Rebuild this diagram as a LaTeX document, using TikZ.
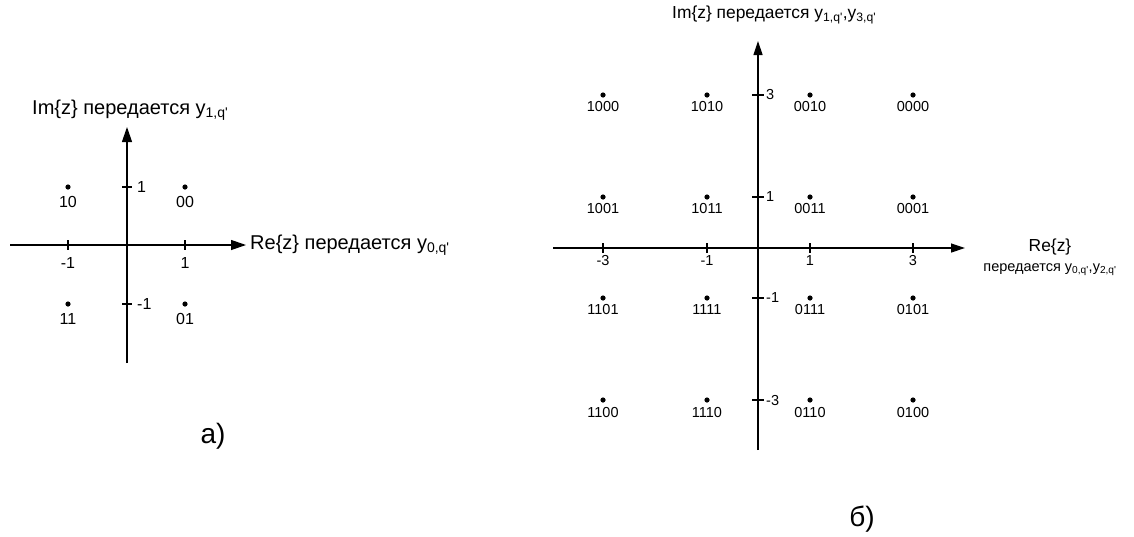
\documentclass[tikz,border=0pt]{standalone}
\usepackage{fontspec}
\setmainfont{Liberation Sans}
\usetikzlibrary{arrows.meta}
\newcommand{\qp}{\textquotesingle}
\begin{document}
\begin{tikzpicture}[x=1pt,y=-1pt,
  axis/.style={line width=1.2pt,-{Triangle[length=15pt,width=10pt]}},
  axisb/.style={line width=1.2pt,-{Triangle[length=14pt,width=9pt]}},
  tickline/.style={line width=1.1pt},
  ptdot/.style={circle,fill=black,inner sep=0pt,minimum size=5.2pt},
  lblA/.style={font=\fontsize{16}{18}\selectfont,inner sep=0pt},
  lblB/.style={font=\fontsize{14.5}{16}\selectfont,inner sep=0pt},
  ttlA/.style={font=\fontsize{20}{22}\selectfont,inner sep=0pt},
  ttlB/.style={font=\fontsize{17.4}{19}\selectfont,inner sep=0pt},
  captxt/.style={font=\fontsize{28}{30}\selectfont,inner sep=0pt}]
\useasboundingbox (0,0) rectangle (1134,536);
% ---------------- a) ----------------
\coordinate (ax0) at (10,245);
\coordinate (ax1) at (246,245);
\coordinate (ay0) at (127,363);
\coordinate (ay1) at (127,127);
\draw[axis] (ax0) -- (ax1);
\draw[axis] (ay0) -- (ay1);
\foreach \x/\t in {68/-1,185/1}{
  \coordinate (atx\x a) at (\x,240);
  \coordinate (atx\x b) at (\x,250);
  \draw[tickline] (atx\x a) -- (atx\x b);
  \node[lblA] (atl\x) at (\x,263) {\t};
}
\foreach \y/\t in {187/1,304/-1}{
  \coordinate (aty\y a) at (122,\y);
  \coordinate (aty\y b) at (132,\y);
  \draw[tickline] (aty\y a) -- (aty\y b);
  \node[lblA,anchor=west] (atyl\y) at (137,\y) {\t};
}
\foreach \x/\y/\t in {68/187/10,185/187/00,68/304/11,185/304/01}{
  \node[ptdot] (ad\x\y) at (\x,\y) {};
  \node[lblA] (adl\x\y) at (\x,\y+15) {\t};
}
\node[ttlA,anchor=west] (atitle) at (32,110) {Im\{z\} передается y\textsubscript{1,q\qp}};
\node[ttlA,anchor=west] (are) at (250,245) {Re\{z\} передается y\textsubscript{0,q\qp}};
\node[captxt] (acap) at (213,436) {а)};
% ---------------- б) ----------------
\coordinate (bx0) at (553,248);
\coordinate (bx1) at (965,248);
\coordinate (by0) at (758,450);
\coordinate (by1) at (758,41);
\draw[axisb] (bx0) -- (bx1);
\draw[axisb] (by0) -- (by1);
\foreach \x/\t in {603/-3,707/-1,810/1,913/3}{
  \coordinate (btx\x a) at (\x,243);
  \coordinate (btx\x b) at (\x,253);
  \draw[tickline] (btx\x a) -- (btx\x b);
  \node[lblB] (btl\x) at (\x,261) {\t};
}
\foreach \y/\t in {95/3,197/1,298/-1,400/-3}{
  \coordinate (bty\y a) at (752,\y);
  \coordinate (bty\y b) at (764,\y);
  \draw[tickline] (bty\y a) -- (bty\y b);
  \node[lblB,anchor=west] (btyl\y) at (766,\y) {\t};
}
\foreach \y/\la/\lb/\lc/\ld in {95/1000/1010/0010/0000,197/1001/1011/0011/0001,298/1101/1111/0111/0101,400/1100/1110/0110/0100}{
  \foreach \x/\t in {603/\la,707/\lb,810/\lc,913/\ld}{
    \node[ptdot] (bd\x\y) at (\x,\y) {};
    \node[lblB] (bdl\x\y) at (\x,\y+12) {\t};
  }
}
\node[ttlB,anchor=west] (btitle) at (672,15) {Im\{z\} передается y\textsubscript{1,q\qp},y\textsubscript{3,q\qp}};
\node[ttlB] (bre) at (1050,247) {Re\{z\}};
\node[lblB] (bre2) at (1050,270) {передается y\textsubscript{0,q\qp},y\textsubscript{2,q\qp}};
\node[captxt] (bcap) at (862,519) {б)};
\end{tikzpicture}
\end{document}
